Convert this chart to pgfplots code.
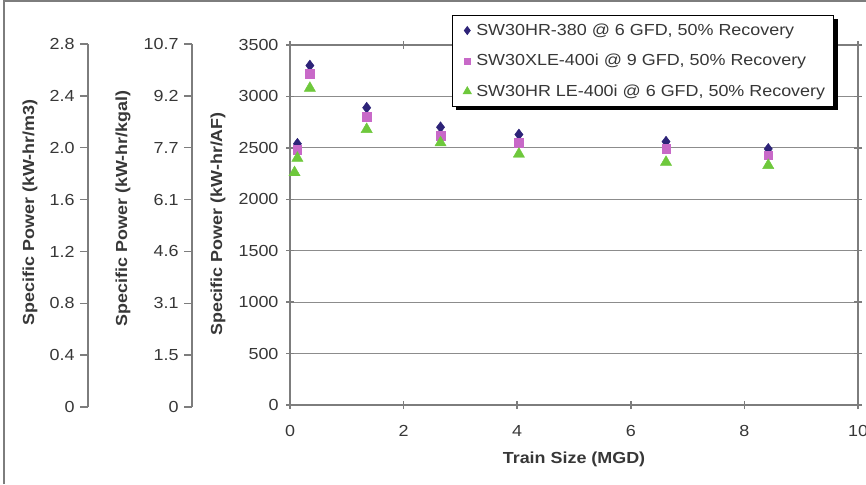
\documentclass[border=0pt]{standalone}
\usepackage{fontspec}
\setmainfont{Liberation Sans}[FakeStretch=1.12]
\usepackage{pgfplots}
\pgfplotsset{compat=1.18}
\definecolor{txt}{RGB}{55,55,55}
\definecolor{axc}{RGB}{125,125,125}
\definecolor{gridc}{RGB}{140,140,140}
\definecolor{cnavy}{RGB}{45,35,120}
\definecolor{cpink}{RGB}{200,105,200}
\definecolor{cgreen}{RGB}{110,200,60}
\tikzset{myfont/.style={font=\fontsize{16}{19}\selectfont, text=txt},
  myboldfont/.style={font=\fontsize{16}{19}\selectfont\bfseries, text=txt}}
\begin{document}
\fontsize{16}{19}\selectfont
\begin{tikzpicture}
\useasboundingbox (0pt,0pt) rectangle (866pt,484pt);
\draw[axc, line width=1.5pt] (4pt,0pt) -- (4pt,483pt) -- (866pt,483pt);
\pgfplotsset{
  sideaxis/.style={
    scale only axis, width=10pt, height=363pt,
    xmin=0, xmax=1, xtick=\empty,
    axis lines*=left,
    x axis line style={draw=none},
    y axis line style={axc, line width=2pt},
    tick align=outside, major tick length=8pt,
    every tick/.style={axc, line width=1.5pt},
    yticklabel style={myfont},
    /pgf/number format/assume math mode=true,
    ylabel style={myboldfont, at={(axis description cs:0,0.5)}, anchor=center},
  }
}
% kW-hr/m3 axis
\begin{axis}[sideaxis, at={(88pt,77pt)}, anchor=south west,
  ymin=0, ymax=2.8, ytick={0,0.4,0.8,1.2,1.6,2.0,2.4,2.8},
  yticklabels={0,0.4,0.8,1.2,1.6,2.0,2.4,2.8},
  ylabel={Specific Power (kW-hr/m3)}, ylabel style={xshift=13pt, yshift=58pt}]
\end{axis}
% kW-hr/kgal axis
\begin{axis}[sideaxis, at={(192pt,77pt)}, anchor=south west,
  ymin=0, ymax=7, ytick={0,1,...,7},
  yticklabels={0,1.5,3.1,4.6,6.1,7.7,9.2,10.7},
  ylabel={Specific Power (kW-hr/kgal)}, ylabel style={xshift=17pt, yshift=69pt}]
\end{axis}
% main axis
\begin{axis}[at={(290pt,79pt)}, anchor=south west, scale only axis,
  width=568pt, height=360pt,
  xmin=0, xmax=10, ymin=0, ymax=3500,
  xtick={0,2,...,10}, ytick={0,500,...,3500},
  ymajorgrids, grid style={gridc, line width=1.2pt},
  axis line style={axc, line width=2pt},
  tick align=center, major tick length=8pt,
  every tick/.style={axc, line width=1.5pt},
  ticklabel style={myfont},
  /pgf/number format/assume math mode=true,
  /pgf/number format/1000 sep={},
  xticklabel style={yshift=-11pt},
  yticklabel style={xshift=-2pt},
  xlabel={Train Size (MGD)},
  xlabel style={myboldfont, yshift=-4pt},
  ylabel={Specific Power (kW-hr/AF)},
  ylabel style={myboldfont, at={(axis description cs:0,0.5)}, anchor=center, xshift=1pt, yshift=72pt},
  clip=false,
  legend style={name=leg, at={(0.285,1.083)}, anchor=north west,
    draw=black, line width=0.8pt, fill=white,
    font=\fontsize{16}{19}\selectfont, text=txt,
    row sep=12.5pt, inner xsep=6pt, inner ysep=6pt,
    legend cell align=left},
  legend image code/.code={\path[draw=none, fill=none] (0pt,0pt) -- (16pt,0pt); \draw[#1, /tikz/every mark/.append style={scale=0.72}] plot coordinates {(9pt,0pt)};},
]
\addplot[only marks, mark=diamond*, mark size=5.5pt, color=cnavy, mark options={fill=cnavy, draw=cnavy}]
  coordinates {(0.13,2540) (0.35,3300) (1.35,2890) (2.65,2700) (4.03,2630) (6.62,2560) (8.42,2490)};
\addlegendentry{SW30HR-380 @ 6 GFD, 50\% Recovery}
\addplot[only marks, mark=square*, mark size=4.3pt, color=cpink, mark options={fill=cpink, draw=cpink}]
  coordinates {(0.13,2480) (0.35,3220) (1.35,2800) (2.65,2620) (4.03,2550) (6.62,2490) (8.42,2430)};
\addlegendentry{SW30XLE-400i @ 9 GFD, 50\% Recovery}
\addplot[only marks, mark=triangle*, mark size=6.5pt, color=cgreen, mark options={fill=cgreen, draw=cgreen}]
  coordinates {(0.13,2400) (0.08,2260) (0.35,3080) (1.35,2680) (2.65,2550) (4.03,2440) (6.62,2360) (8.42,2330)};
\addlegendentry{SW30HR LE-400i @ 6 GFD, 50\% Recovery}
\end{axis}
% legend drop shadow
\fill[black] ([yshift=-4pt]leg.north east) rectangle ([xshift=4pt,yshift=-3pt]leg.south east);
\fill[black] ([xshift=4pt]leg.south west) rectangle ([xshift=4pt,yshift=-3pt]leg.south east);
\end{tikzpicture}
\end{document}
